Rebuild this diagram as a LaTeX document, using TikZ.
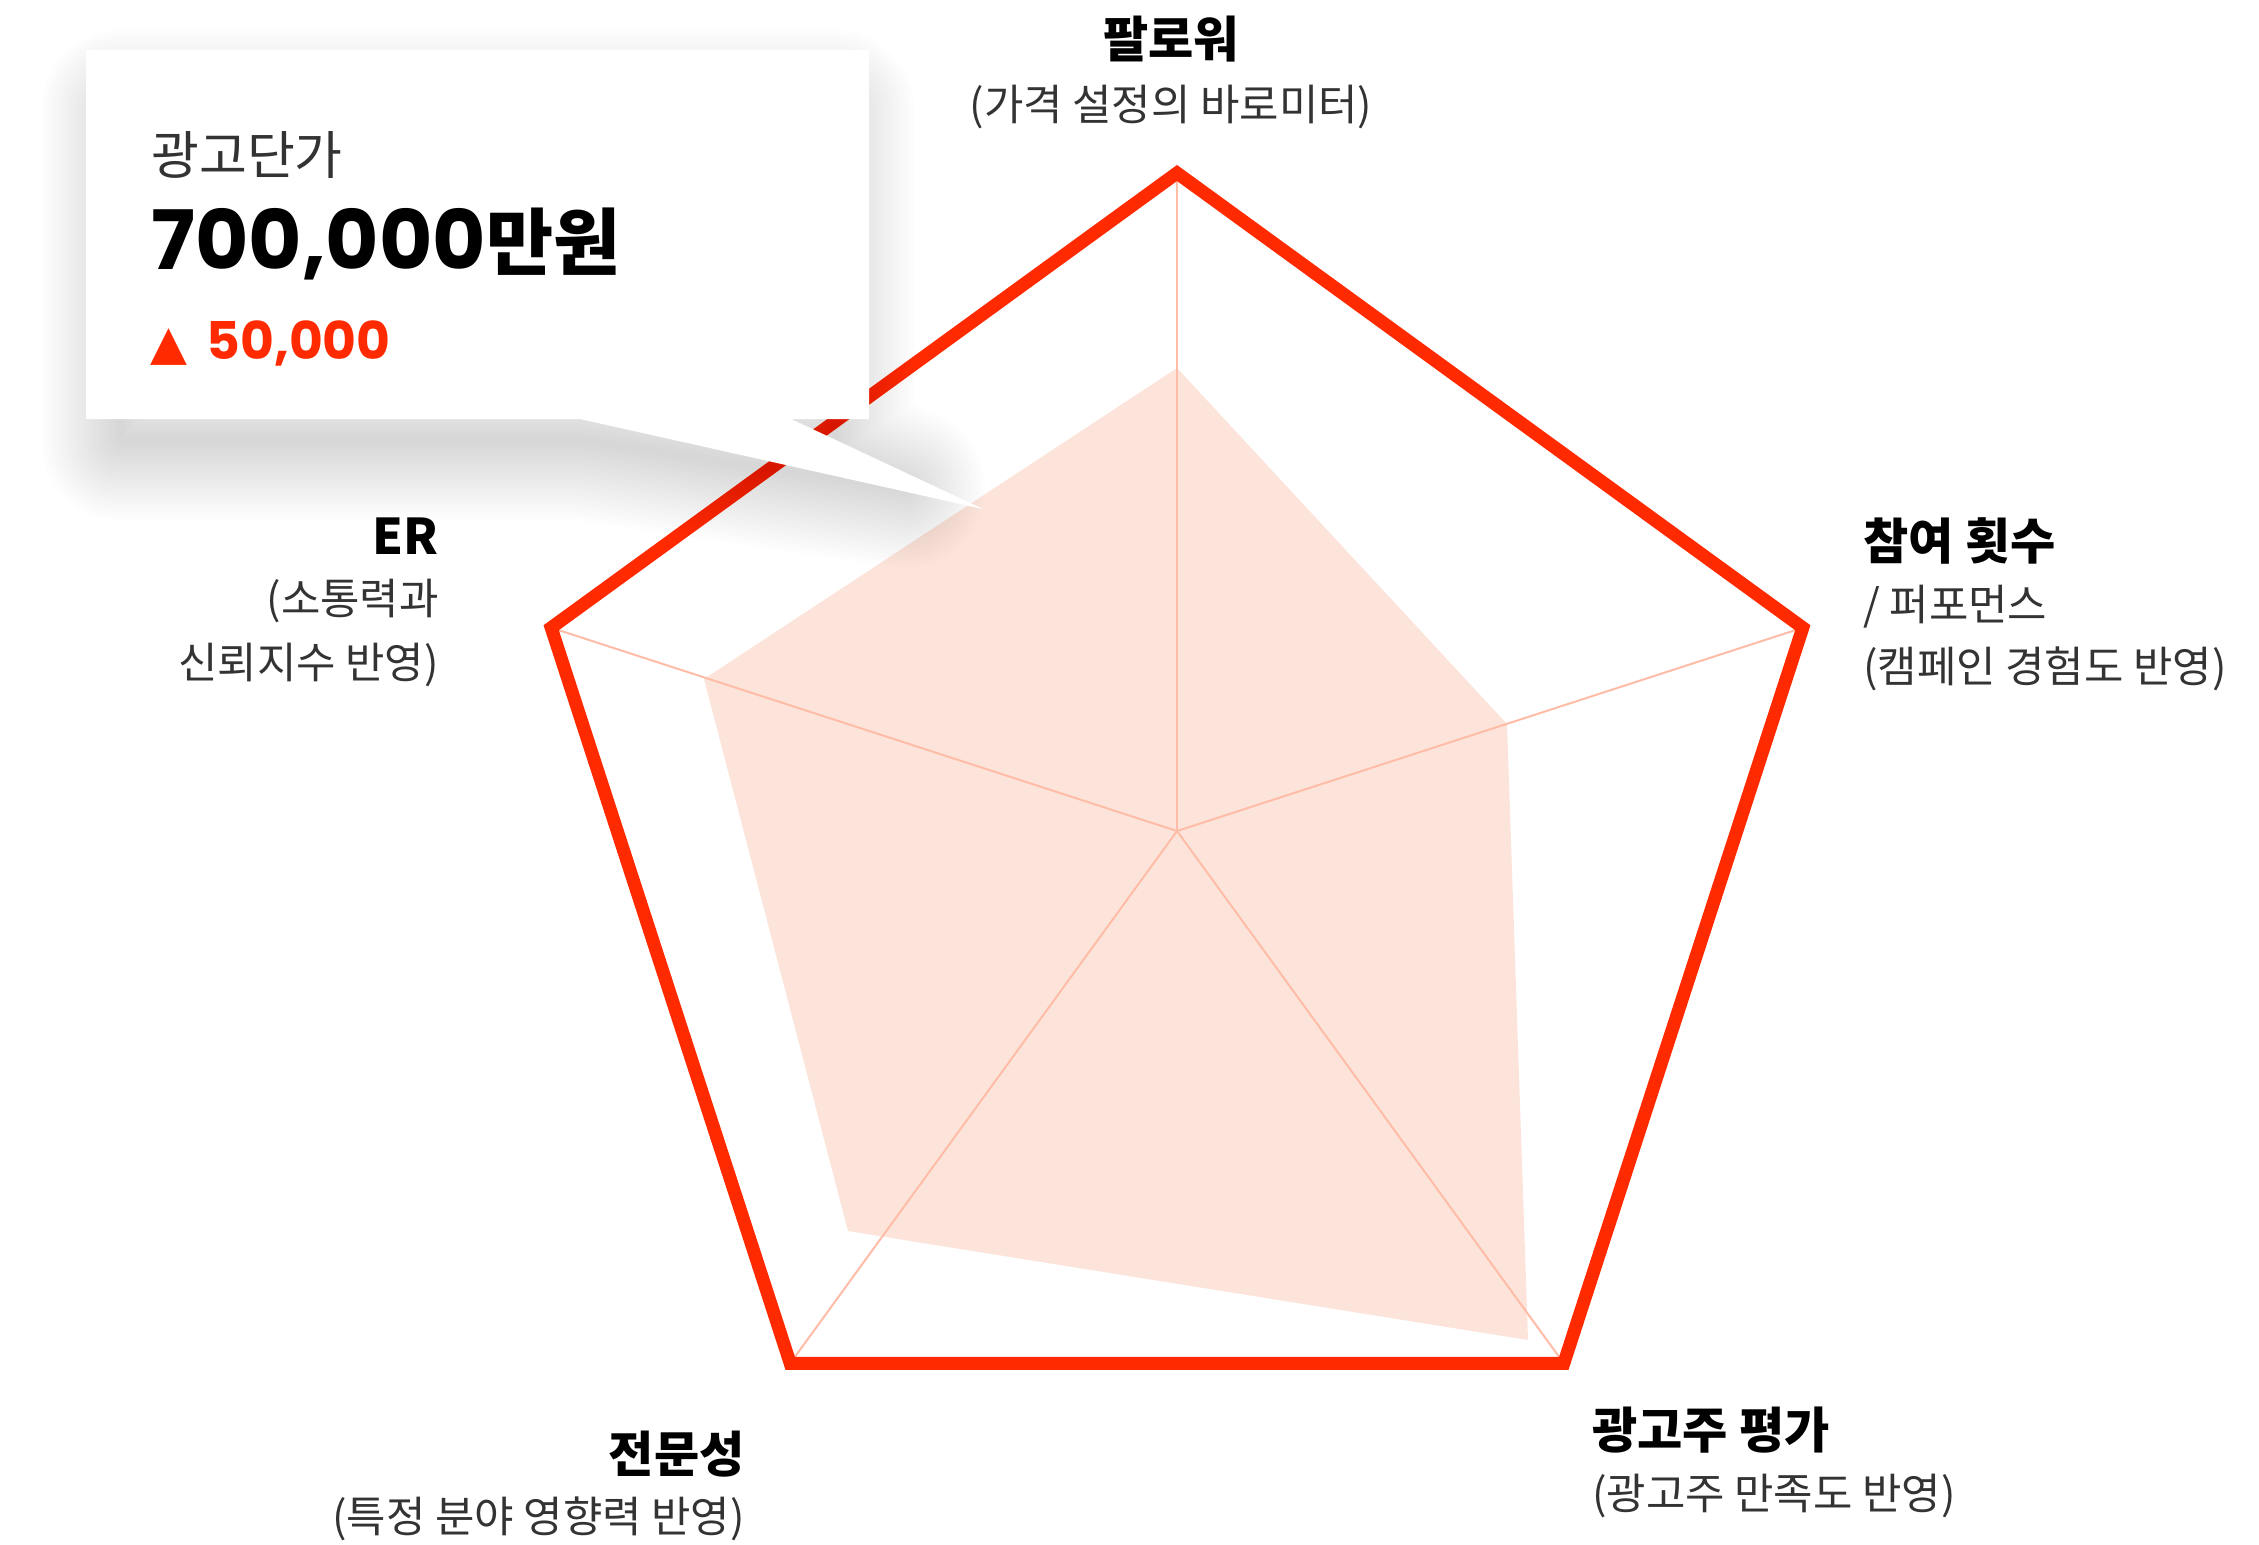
\documentclass[tikz,border=0pt]{standalone}
\usepackage{fontspec}
\setmainfont{Noto Sans CJK KR}
\newfontfamily\kr{Noto Sans CJK KR}
\newfontfamily\pop{Poppins}
\newfontfamily\dv{DejaVu Sans}
\usetikzlibrary{calc}
\definecolor{redor}{HTML}{FF2A00}
\definecolor{fillpk}{HTML}{FDE4DB}
\definecolor{spokec}{HTML}{FFBCA6}
\definecolor{txtgray}{HTML}{333333}
\begin{document}
\begin{tikzpicture}[x=0.5pt,y=-0.5pt,
  ttl/.style={font=\kr\bfseries\fontsize{24.6}{28}\selectfont, text=black, inner sep=0pt},
  subl/.style={font=\kr\fontsize{21.4}{26}\selectfont, text=txtgray, inner sep=0pt},
  spokeline/.style={draw=spokec, line width=1pt},
  outerline/.style={draw=redor, line width=6.5pt, line join=miter},
  shadowlayer/.style={draw=black, draw opacity=0.0075, line join=round}
 ]
\useasboundingbox (0,0) rectangle (2259,1544);
\fill[white] (0,0) rectangle (2259,1544);
% geometry
\coordinate (C) at (1177,831);
\coordinate (V1) at (1177,173);
\coordinate (V2) at (1802.8,627.7);
\coordinate (V3) at (1563.8,1363.3);
\coordinate (V4) at (790.2,1363.3);
\coordinate (V5) at (551.2,627.7);
\coordinate (D1) at (1177,368);
\coordinate (D2) at (1507,724);
\coordinate (D3) at (1528,1340);
\coordinate (D4) at (848,1231);
\coordinate (D5) at (704,679);
% data area
\fill[fillpk] (D1) -- (D2) -- (D3) -- (D4) -- (D5) -- cycle;
% spokes
\foreach \i in {1,...,5} \draw[spokeline] (C) -- (V\i);
% outer pentagon
\draw[outerline] (V1) -- (V2) -- (V3) -- (V4) -- (V5) -- cycle;
% soft shadow of the callout
\foreach \k [evaluate=\k as \w using \k*4] in {1,...,20}
  \draw[shadowlayer, line width=\w pt] (121,110) -- (834,110) -- (834,440) -- (791,440) -- (905,488) -- (580,440) -- (121,440) -- cycle;
% callout box
\coordinate (B1) at (86,50);
\coordinate (B2) at (869,50);
\coordinate (B3) at (869,419);
\coordinate (B4) at (791,419);
\coordinate (BT) at (983,509);
\coordinate (B5) at (580,419);
\coordinate (B6) at (86,419);
\fill[white] (B1) -- (B2) -- (B3) -- (B4) -- (BT) -- (B5) -- (B6) -- cycle;
\node[anchor=base west, inner sep=0pt, font=\kr\fontsize{26}{30}\selectfont, text=txtgray] (price) at (151,174) {광고단가};
\node[anchor=base west, inner sep=0pt, text=black] (value) at (151,269) {{\pop\bfseries\fontsize{41}{44}\selectfont 700,000}{\kr\bfseries\fontsize{36.5}{40}\selectfont 만원}};
\node[anchor=base west, inner sep=0pt, text=redor, font=\dv\fontsize{24}{28}\selectfont] (tri) at (150,359) {▲};
\node[anchor=base west, inner sep=0pt, text=redor, font=\pop\bfseries\fontsize{26}{30}\selectfont] (delta) at (206,359) {50,000};
% axis labels
\node[ttl, anchor=base] (t1) at (1171,57) {팔로워};
\node[subl, anchor=base] (s1) at (1171,120) {(가격 설정의 바로미터)};
\node[ttl, anchor=base west] (t2) at (1863,559) {참여 횟수};
\node[subl, anchor=base west] (s2a) at (1863,620) {/ 퍼포먼스};
\node[subl, anchor=base west] (s2b) at (1863,682) {(캠페인 경험도 반영)};
\node[ttl, anchor=base west] (t3) at (1592,1448) {광고주 평가};
\node[subl, anchor=base west] (s3) at (1592,1509) {(광고주 만족도 반영)};
\node[ttl, anchor=base east] (t4) at (745,1472) {전문성};
\node[subl, anchor=base east] (s4) at (745,1532) {(특정 분야 영향력 반영)};
\node[ttl, anchor=base east] (t5) at (439,554) {ER};
\node[subl, anchor=base east] (s5a) at (439,614) {(소통력과};
\node[subl, anchor=base east] (s5b) at (439,678) {신뢰지수 반영)};
\end{tikzpicture}
\end{document}
